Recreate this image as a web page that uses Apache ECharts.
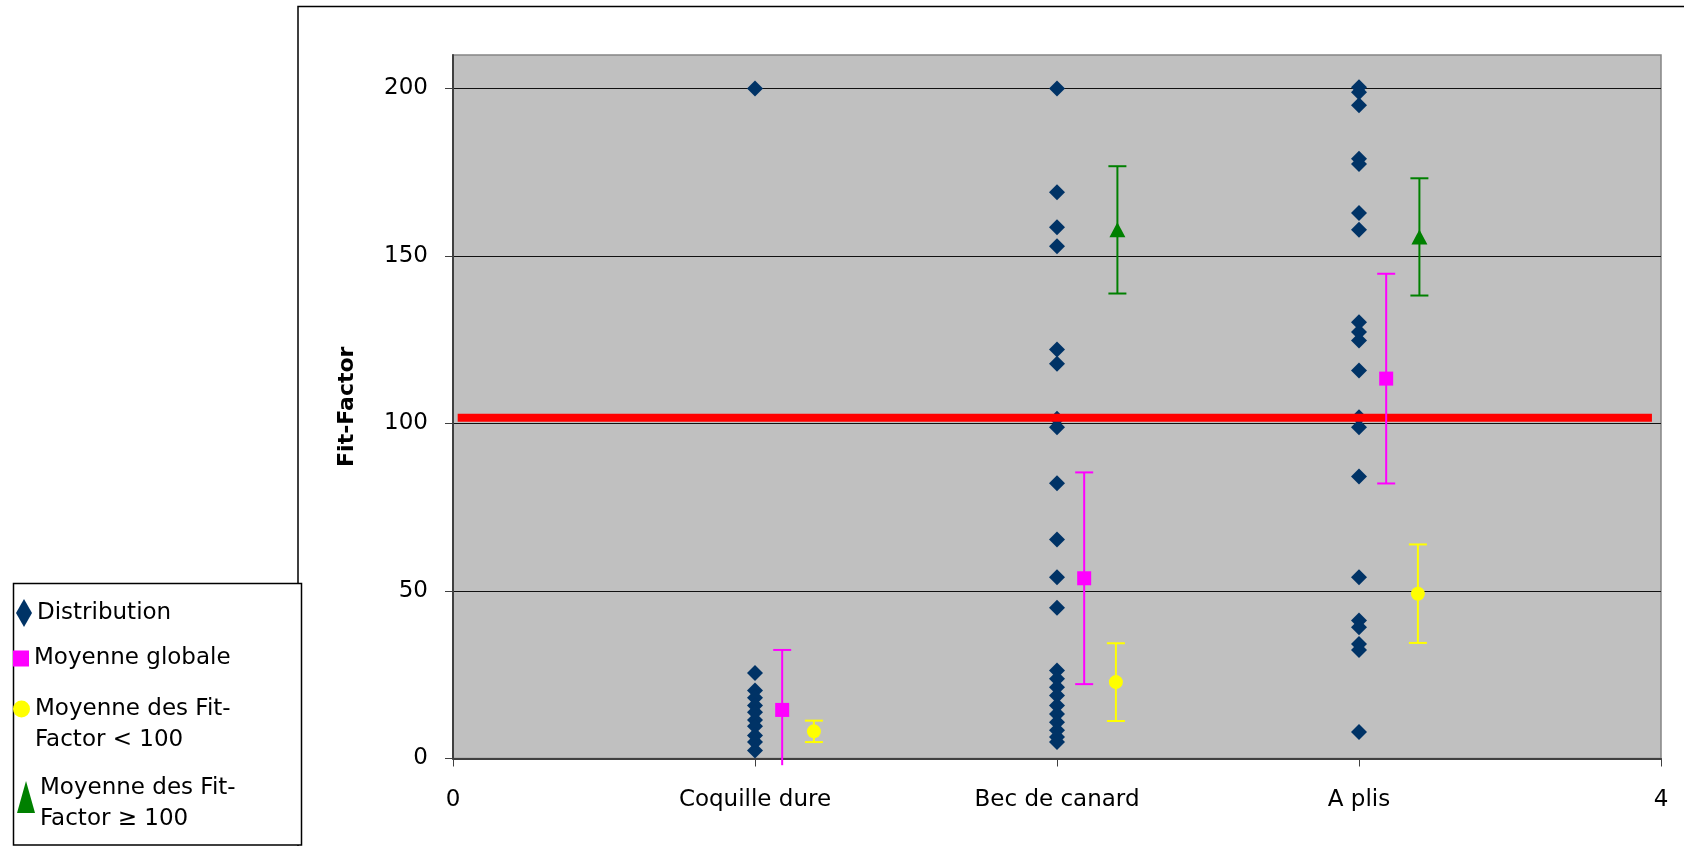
<!DOCTYPE html>
<html>
<head>
<meta charset="utf-8">
<script src="https://cdn.jsdelivr.net/npm/echarts@6/dist/echarts.min.js"></script>
<style>
  html, body { margin: 0; padding: 0; background: #ffffff; }
  #chart { width: 1684px; height: 846px; }
</style>
</head>
<body>
<div id="chart"></div>
<script>
// ---------------- data ----------------
const categories = ['Coquille dure', 'Bec de canard', 'A plis'];
const xTickLabels = ['0', 'Coquille dure', 'Bec de canard', 'A plis', '4'];
const yTicks = [0, 50, 100, 150, 200];

const distCoquille = [200, 25.5, 20.3, 18.1, 15.8, 13.8, 11.5, 9.6, 6.9, 4.9, 2.4];
const distBec = [200, 169, 158.6, 152.9, 122.1, 117.8, 101.4, 98.9, 82.2, 65.4, 54.1, 45.0,
                 26.3, 23.8, 21.3, 18.8, 15.8, 13.3, 10.8, 8.4, 6.4, 4.9];
const distAPlis = [200.4, 198.9, 195, 179, 177.5, 162.8, 157.8, 130.2, 127.3, 124.8, 115.8,
                   101.9, 98.9, 84.2, 54.1, 41.2, 39.2, 34.2, 32.4, 7.9];

const globMean = [14.5, 53.8, 113.4];
const globErr  = [17.9, 31.6, 31.3];
const lowMean  = [8.1, 22.8, 49.2];
const lowErr   = [3.2, 11.6, 14.7];
const highMean = [null, 157.8, 155.7];
const highErr  = [null, 19.0, 17.5];

const threshold = 101.7;
const thresholdRange = [0.0155, 3.97];

// ---------------- build ----------------
const FONT = 'DejaVu Sans';
const FS = 23;
const offGlob = 0.09, offLow = 0.195, offHigh = 0.2;

const distData = [];
[distCoquille, distBec, distAPlis].forEach((arr, i) => {
  arr.forEach(v => distData.push([i + 1, v]));
});
function meanData(means, off) {
  const out = [];
  means.forEach((m, i) => { if (m != null) out.push([i + 1 + off, m]); });
  return out;
}
function errData(means, errs, off) {
  const out = [];
  means.forEach((m, i) => { if (m != null) out.push([i + 1 + off, m - errs[i], m + errs[i]]); });
  return out;
}
function errorBar(color) {
  return function (params, api) {
    const x = api.value(0), lo = api.value(1), hi = api.value(2);
    const loC = Math.max(lo, -2);
    const t = api.coord([x, hi]);
    const b = api.coord([x, loC]);
    const hw = 9;
    const st = { stroke: color, lineWidth: 2 };
    const ch = [
      { type: 'line', shape: { x1: t[0], y1: t[1], x2: b[0], y2: b[1] }, style: st },
      { type: 'line', shape: { x1: t[0] - hw, y1: t[1], x2: t[0] + hw, y2: t[1] }, style: st }
    ];
    if (lo >= 0) ch.push({ type: 'line', shape: { x1: b[0] - hw, y1: b[1], x2: b[0] + hw, y2: b[1] }, style: st });
    return { type: 'group', children: ch };
  };
}

const legendText = { fontFamily: FONT, fontSize: FS, color: '#000', lineHeight: 31 };
function legendOf(name, icon, left, top, w, h, gap, lead) {
  const lg = {
    show: true, orient: 'vertical', left: left, top: top, padding: 0,
    itemWidth: w, itemHeight: h, itemTextGap: gap,
    data: [{ name: name, icon: icon }],
    textStyle: legendText
  };
  if (lead) {
    lg.formatter = n => '{g| }\n' + n.split('\n').map(s => '{t|' + s + '}').join('\n');
    lg.textStyle = Object.assign({}, legendText, {
      rich: {
        g: { fontSize: 4, lineHeight: lead, height: lead },
        t: { fontFamily: FONT, fontSize: FS, color: '#000', lineHeight: 31 }
      }
    });
  }
  return lg;
}

const nameGlob = 'Moyenne globale';
const nameLow = 'Moyenne des Fit-\nFactor < 100';
const nameHigh = 'Moyenne des Fit-\nFactor ≥ 100';

const option = {
  animation: false,
  backgroundColor: '#ffffff',
  graphic: [
    { type: 'rect', z: 0, shape: { x: 298, y: 6.5, width: 1500, height: 900 },
      style: { fill: 'none', stroke: '#000', lineWidth: 1.5 } },
    { type: 'rect', z: 0, shape: { x: 13.5, y: 583.5, width: 288, height: 261.5 },
      style: { fill: '#fff', stroke: '#000', lineWidth: 1.5 } }
  ],
  legend: [
    legendOf('Distribution', 'diamond', 16, 597.5, 16, 28, 2.5, 0),
    legendOf(nameGlob, 'rect', 13, 643, 16, 16, 5, 0),
    legendOf(nameLow, 'circle', 13, 662.5, 17, 17, 4, 31),
    legendOf(nameHigh, 'triangle', 17, 759, 18, 32, 1, 14)
  ],
  grid: {
    left: 453, right: 23, top: 55, bottom: 87.5,
    show: true, backgroundColor: '#C0C0C0', borderColor: '#858585', borderWidth: 1.5,
    containLabel: false, outerBoundsMode: 'none'
  },
  xAxis: {
    type: 'value', min: 0, max: 4, interval: 1,
    axisLine: { show: true, onZero: false, lineStyle: { color: '#404040', width: 2 } },
    axisTick: { show: true, inside: false, length: 8, lineStyle: { color: '#404040', width: 1 } },
    splitLine: { show: false },
    axisLabel: {
      margin: 30, color: '#000', fontFamily: FONT, fontSize: FS,
      showMinLabel: true, showMaxLabel: true, hideOverlap: false,
      formatter: v => xTickLabels[Math.round(v)] ?? ''
    }
  },
  yAxis: {
    type: 'value', min: 0, max: 210, interval: 50,
    name: 'Fit-Factor', nameLocation: 'middle', nameGap: 95, nameRotate: 90,
    nameTextStyle: { fontFamily: FONT, fontSize: 22, fontWeight: 'bold', color: '#000' },
    axisLine: { show: true, lineStyle: { color: '#404040', width: 2 } },
    axisTick: { show: true, inside: false, length: 8, customValues: yTicks,
                lineStyle: { color: '#404040', width: 1 } },
    splitLine: { show: true, lineStyle: { color: ['transparent', '#111', '#111', '#111', '#111', 'transparent'], width: 1 } },
    axisLabel: {
      margin: 25, color: '#000', fontFamily: FONT, fontSize: FS,
      customValues: yTicks,
      formatter: v => (yTicks.indexOf(v) >= 0 ? String(v) : '')
    }
  },
  series: [
    { name: 'Distribution', type: 'scatter', data: distData, symbol: 'diamond', symbolSize: [16, 16],
      itemStyle: { color: '#003366', opacity: 1 }, z: 2 },
    { name: 'threshold', type: 'line', data: thresholdRange.map(x => [x, threshold]),
      showSymbol: false, symbol: 'none', silent: true,
      lineStyle: { color: '#FF0000', width: 8, cap: 'butt' }, z: 3 },
    { name: nameGlob + ' err', type: 'custom', renderItem: errorBar('#FF00FF'), clip: false,
      data: errData(globMean, globErr, offGlob), encode: { x: 0, y: [1, 2] }, z: 4, silent: true },
    { name: nameLow + ' err', type: 'custom', renderItem: errorBar('#FFFF00'), clip: false,
      data: errData(lowMean, lowErr, offLow), encode: { x: 0, y: [1, 2] }, z: 4, silent: true },
    { name: nameHigh + ' err', type: 'custom', renderItem: errorBar('#008000'), clip: false,
      data: errData(highMean, highErr, offHigh), encode: { x: 0, y: [1, 2] }, z: 4, silent: true },
    { name: nameGlob, type: 'scatter', data: meanData(globMean, offGlob), symbol: 'rect', symbolSize: 14,
      itemStyle: { color: '#FF00FF', opacity: 1 }, z: 5 },
    { name: nameLow, type: 'scatter', data: meanData(lowMean, offLow), symbol: 'circle', symbolSize: 14,
      itemStyle: { color: '#FFFF00', opacity: 1 }, z: 5 },
    { name: nameHigh, type: 'scatter', data: meanData(highMean, offHigh), symbol: 'triangle', symbolSize: [16, 15],
      itemStyle: { color: '#008000', opacity: 1 }, z: 5 }
  ]
};

const chart = echarts.init(document.getElementById('chart'), null, { renderer: 'canvas' });
chart.setOption(option);
</script>
</body>
</html>
